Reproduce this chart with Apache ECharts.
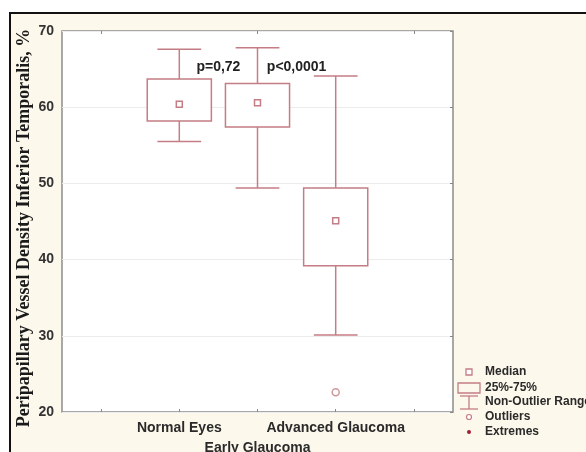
<!DOCTYPE html>
<html>
<head>
<meta charset="utf-8">
<script src="https://cdn.jsdelivr.net/npm/echarts@6/dist/echarts.min.js"></script>
<style>
  html, body { margin: 0; padding: 0; background: #ffffff; }
  #frame {
    position: absolute; left: 9px; top: 12px; width: 600px; height: 460px;
    background: #fdf8ec; border-top: 2px solid #111; border-left: 2px solid #111;
  }
  #chart { position: absolute; left: 0; top: 0; width: 586px; height: 452px; }
</style>
</head>
<body>
<div id="frame"></div>
<div id="chart"></div>
<script>
// Groups along the x axis (outer slots are empty padding bands)
const categories = [' ', 'Normal Eyes', 'Early Glaucoma', 'Advanced Glaucoma', '  '];
// Per group: [category index, whisker low, Q1, median, Q3, whisker high]
const boxNormal   = [1, 55.5, 58.2, 60.4, 63.7, 67.6];
const boxEarly    = [2, 49.4, 57.4, 60.6, 63.1, 67.8];
const boxAdvanced = [3, 30.1, 39.2, 45.1, 49.4, 64.1];
// Outlying observations: [category index, value]
const outliers = [[3, 22.6]];
// Pairwise comparison labels: [left group, right group, y level]
const pPairs = [[1, 2, 65.3], [2, 3, 65.3]];
const pTexts = ['p=0,72', 'p<0,0001'];
const yTicks = { min: 20, max: 70, interval: 10 };

const RED = '#c47d84';
const SANS = '"Liberation Sans", Arial, sans-serif';

function renderBox(params, api) {
  const x = api.value(0);
  const lo = api.coord([x, api.value(1)]);
  const q1 = api.coord([x, api.value(2)]);
  const md = api.coord([x, api.value(3)]);
  const q3 = api.coord([x, api.value(4)]);
  const hi = api.coord([x, api.value(5)]);
  const band = api.size([1, 0])[0];
  const bh = band * 0.41, ch = band * 0.28, cx = md[0];
  const line = { stroke: RED, lineWidth: 1.5, fill: null };
  return {
    type: 'group',
    children: [
      { type: 'line', shape: { x1: cx, y1: hi[1], x2: cx, y2: q3[1] }, style: line },
      { type: 'line', shape: { x1: cx, y1: q1[1], x2: cx, y2: lo[1] }, style: line },
      { type: 'line', shape: { x1: cx - ch, y1: hi[1], x2: cx + ch, y2: hi[1] }, style: line },
      { type: 'line', shape: { x1: cx - ch, y1: lo[1], x2: cx + ch, y2: lo[1] }, style: line },
      { type: 'rect', shape: { x: cx - bh, y: q3[1], width: bh * 2, height: q1[1] - q3[1] },
        style: { stroke: RED, lineWidth: 1.5, fill: '#fff' } },
      { type: 'rect', shape: { x: cx - 3, y: md[1] - 3, width: 6, height: 6 },
        style: { stroke: RED, lineWidth: 1.5, fill: '#fff' } }
    ]
  };
}

function renderP(params, api) {
  const a = api.coord([api.value(0), api.value(2)]);
  const b = api.coord([api.value(1), api.value(2)]);
  return {
    type: 'text',
    style: {
      x: (a[0] + b[0]) / 2, y: a[1], text: pTexts[params.dataIndex],
      align: 'center', verticalAlign: 'middle',
      font: 'bold 14px ' + SANS, fill: '#222'
    }
  };
}

// Legend glyphs and captions on the right
const LX = 469;
const legendText = (y, t) => ({
  type: 'text', x: 485, y: y,
  style: { text: t, font: 'bold 12px ' + SANS, fill: '#2a2a2a', verticalAlign: 'middle' }
});
const legend = [
  { type: 'rect', shape: { x: LX - 3, y: 369, width: 6, height: 6 }, style: { stroke: RED, lineWidth: 1.3, fill: '#fff' } },
  legendText(372, 'Median'),
  { type: 'rect', shape: { x: 458, y: 383, width: 22, height: 10 }, style: { stroke: RED, lineWidth: 1.3, fill: 'none' } },
  legendText(388, '25%-75%'),
  { type: 'line', shape: { x1: 460, y1: 396, x2: 478, y2: 396 }, style: { stroke: RED, lineWidth: 1.3 } },
  { type: 'line', shape: { x1: LX, y1: 396, x2: LX, y2: 409 }, style: { stroke: RED, lineWidth: 1.3 } },
  { type: 'line', shape: { x1: 460, y1: 409, x2: 478, y2: 409 }, style: { stroke: RED, lineWidth: 1.3 } },
  legendText(402, 'Non-Outlier Range'),
  { type: 'circle', shape: { cx: LX, cy: 417, r: 2.5 }, style: { stroke: RED, lineWidth: 1.2, fill: '#fff' } },
  legendText(417, 'Outliers'),
  { type: 'circle', shape: { cx: LX, cy: 432, r: 2 }, style: { fill: '#a02030' } },
  legendText(432, 'Extremes'),
  { type: 'text', x: 24, y: 228, rotation: Math.PI / 2,
    style: { text: 'Peripapillary Vessel Density Inferior Temporalis, %',
      font: 'bold 18px "Liberation Serif", "Times New Roman", serif', fill: '#1a1a1a',
      align: 'center', verticalAlign: 'middle' } }
];

const chart = echarts.init(document.getElementById('chart'), null, { renderer: 'canvas' });
chart.setOption({
  backgroundColor: 'transparent',
  animation: false,
  grid: { left: 62, top: 31, right: 133, bottom: 40, show: true, outerBoundsMode: 'none',
    backgroundColor: '#ffffff', borderColor: '#8c8c8c', borderWidth: 1.5 },
  xAxis: [{
    type: 'category', data: categories, boundaryGap: true,
    axisLine: { show: false },
    axisTick: { show: true, inside: true, alignWithLabel: true, length: 3, lineStyle: { color: '#888' } },
    axisLabel: {
      interval: 0, margin: 6, color: '#2a2a2a', fontFamily: SANS, fontWeight: 'bold', fontSize: 14,
      formatter: (v, i) => (i === 2 ? '\n' + v : v), lineHeight: 20
    },
    splitLine: { show: false }
  }, {
    type: 'category', data: categories, boundaryGap: true, position: 'top',
    axisLine: { show: false }, axisLabel: { show: false },
    axisTick: { show: true, inside: true, alignWithLabel: true, length: 3, lineStyle: { color: '#888' } }
  }],
  yAxis: [{
    type: 'value', min: yTicks.min, max: yTicks.max, interval: yTicks.interval,
    axisLine: { show: false }, axisTick: { show: false },
    axisLabel: { margin: 8, color: '#333', fontFamily: SANS, fontWeight: 'bold', fontSize: 14 },
    splitLine: { show: true, lineStyle: { color: '#ececec', width: 1 } }
  }, {
    type: 'value', min: yTicks.min, max: yTicks.max, interval: yTicks.interval, position: 'right',
    axisLine: { show: false }, axisLabel: { show: false }, splitLine: { show: false },
    axisTick: { show: true, inside: true, length: 3, lineStyle: { color: '#888' } }
  }],
  series: [
    { type: 'custom', renderItem: renderBox, data: [boxNormal, boxEarly, boxAdvanced], z: 3 },
    { type: 'scatter', data: outliers, symbol: 'circle', symbolSize: 7,
      itemStyle: { color: '#fff', borderColor: RED, borderWidth: 1.5 }, z: 4 },
    { type: 'custom', renderItem: renderP, data: pPairs, z: 5 }
  ],
  graphic: legend
});
</script>
</body>
</html>
